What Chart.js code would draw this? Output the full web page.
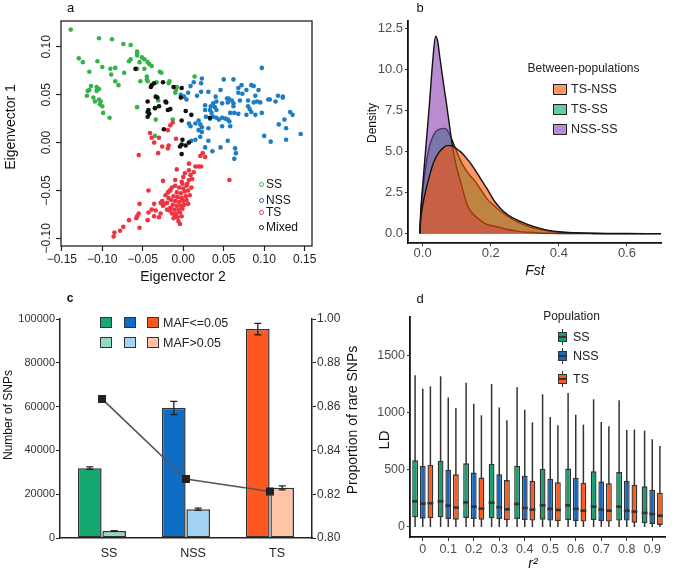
<!DOCTYPE html>
<html><head><meta charset="utf-8">
<script src="https://cdn.jsdelivr.net/npm/chart.js@4.4.0/dist/chart.umd.min.js"></script>
<style>
body{margin:0;background:#fff;font-family:"Liberation Sans",Arial,sans-serif;}
#wrap{position:relative;width:675px;height:571px;overflow:hidden;background:#fff;}
canvas{position:absolute;left:0;top:0;}
.t{position:absolute;white-space:nowrap;transform:translate(-50%,-50%);color:#111;line-height:1;}
.r{transform:translate(-50%,-50%) rotate(-90deg);}
.l{position:absolute;white-space:nowrap;transform:translateY(-50%);color:#111;line-height:1;}
.bx{position:absolute;box-sizing:border-box;}
</style></head>
<body><div id="wrap"></div>
<script>
// ---------- Panel a: PCA eigenvectors ----------
const ssPts = [[-0.139,0.118],[-0.104,0.109],[-0.088,0.108],[-0.074,0.103],[-0.065,0.102],[-0.129,0.088],[-0.124,0.084],[-0.106,0.085],[-0.100,0.079],[-0.116,0.074],[-0.090,0.077],[-0.084,0.078],[-0.089,0.071],[-0.073,0.073],[-0.057,0.095],[-0.057,0.093],[-0.057,0.091],[-0.051,0.089],[-0.048,0.087],[-0.044,0.084],[-0.067,0.085],[-0.065,0.087],[-0.054,0.084],[-0.042,0.082],[-0.048,0.077],[-0.057,0.077],[-0.039,0.080],[-0.029,0.074],[-0.027,0.073],[-0.045,0.069],[-0.044,0.064],[-0.053,0.064],[-0.084,0.064],[-0.080,0.060],[-0.114,0.059],[-0.116,0.055],[-0.118,0.054],[-0.119,0.049],[-0.107,0.058],[-0.107,0.054],[-0.104,0.056],[-0.111,0.047],[-0.109,0.043],[-0.104,0.045],[-0.102,0.043],[-0.103,0.040],[-0.100,0.038],[-0.099,0.031],[-0.091,0.026],[-0.057,0.037],[-0.018,0.062],[-0.017,0.064],[-0.008,0.058],[-0.009,0.055],[-0.010,0.052],[0.014,0.069],[-0.035,0.036],[-0.035,0.007],[-0.013,0.024],[-0.031,0.044],[-0.033,0.063],[-0.045,0.066],[-0.034,0.024]];
const nssPts = [[0.097,0.078],[0.023,0.067],[0.013,0.063],[0.009,0.059],[0.022,0.062],[0.022,0.053],[0.006,0.052],[0.004,0.045],[0.062,0.066],[0.068,0.057],[0.068,0.052],[0.073,0.051],[0.084,0.060],[0.087,0.059],[0.093,0.055],[0.089,0.049],[0.080,0.044],[0.080,0.038],[0.082,0.035],[0.087,0.042],[0.091,0.043],[0.095,0.042],[0.105,0.045],[0.114,0.043],[0.117,0.049],[0.123,0.048],[0.123,0.047],[0.054,0.046],[0.056,0.046],[0.060,0.044],[0.055,0.042],[0.062,0.041],[0.062,0.038],[0.040,0.048],[0.041,0.043],[0.037,0.041],[0.027,0.039],[0.034,0.038],[0.039,0.037],[0.033,0.034],[0.027,0.034],[0.035,0.031],[0.041,0.034],[0.048,0.041],[0.058,0.031],[0.063,0.031],[0.068,0.030],[0.078,0.029],[0.084,0.032],[0.089,0.029],[0.097,0.031],[0.028,0.027],[0.033,0.025],[0.037,0.027],[0.041,0.026],[0.044,0.024],[0.048,0.026],[0.052,0.025],[0.055,0.024],[0.057,0.022],[0.058,0.017],[0.048,0.017],[0.019,0.023],[0.015,0.020],[0.021,0.019],[0.023,0.016],[0.031,0.015],[0.019,0.013],[0.009,0.017],[0.007,0.020],[0.132,0.032],[0.135,0.029],[0.125,0.024],[0.118,0.019],[0.127,0.015],[0.145,0.009],[0.100,0.007],[0.108,0.001],[0.127,0.003],[0.055,0.002],[0.064,-0.006],[0.065,-0.011],[0.063,-0.017],[0.046,-0.005],[0.036,-0.009],[0.027,-0.005],[0.021,0.006],[0.023,0.011],[0.015,0.003],[0.010,0.002],[0.031,0.002],[0.050,0.066],[0.072,0.060],[0.078,0.055],[0.107,0.045],[0.070,0.044],[0.046,0.055],[0.031,0.053],[0.017,0.049],[-0.003,0.050],[0.001,0.048]];
const tsPts = [[-0.041,0.010],[-0.039,0.005],[-0.030,0.005],[-0.036,0.000],[-0.026,-0.004],[-0.018,-0.003],[-0.019,-0.006],[-0.031,-0.011],[-0.055,-0.013],[-0.009,0.004],[-0.016,0.018],[-0.013,0.021],[-0.019,0.013],[0.024,-0.011],[0.021,-0.014],[0.027,-0.015],[0.057,-0.039],[0.007,-0.022],[0.015,-0.025],[0.019,-0.025],[0.022,-0.025],[0.007,-0.029],[0.013,-0.031],[0.009,-0.034],[0.011,-0.038],[0.007,-0.039],[0.005,-0.043],[0.002,-0.032],[0.000,-0.036],[-0.002,-0.041],[-0.008,-0.028],[-0.010,-0.039],[-0.025,-0.040],[-0.043,-0.050],[-0.019,-0.052],[-0.016,-0.050],[-0.026,-0.061],[-0.028,-0.063],[-0.023,-0.064],[-0.036,-0.064],[-0.039,-0.070],[-0.034,-0.071],[-0.054,-0.064],[-0.055,-0.074],[-0.043,-0.073],[-0.028,-0.074],[-0.036,-0.077],[-0.044,-0.081],[-0.030,-0.078],[-0.057,-0.077],[-0.058,-0.079],[-0.067,-0.081],[-0.054,-0.089],[-0.074,-0.088],[-0.078,-0.092],[-0.085,-0.094],[-0.086,-0.098],[-0.017,-0.071],[-0.014,-0.074],[-0.010,-0.076],[-0.010,-0.045],[-0.005,-0.047],[0.000,-0.048],[0.004,-0.045],[-0.008,-0.052],[-0.003,-0.053],[0.002,-0.051],[0.006,-0.050],[-0.012,-0.056],[-0.007,-0.057],[-0.002,-0.058],[0.003,-0.056],[-0.015,-0.060],[-0.010,-0.061],[-0.005,-0.062],[0.000,-0.061],[0.004,-0.060],[-0.018,-0.058],[-0.013,-0.065],[-0.008,-0.066],[-0.003,-0.066],[0.001,-0.065],[-0.011,-0.070],[-0.006,-0.070],[-0.001,-0.069],[-0.016,-0.068],[-0.009,-0.074],[-0.004,-0.073],[-0.007,-0.078],[-0.002,-0.077],[-0.012,-0.079],[-0.006,-0.082],[-0.020,-0.063],[-0.022,-0.055],[-0.017,-0.050],[0.008,-0.055],[0.010,-0.047],[-0.014,-0.047],[-0.001,-0.043],[-0.020,-0.070],[-0.025,-0.066],[0.006,-0.064],[-0.004,-0.085]];
const mixedPts = [[-0.059,0.077],[-0.040,0.058],[-0.039,0.060],[-0.036,0.062],[-0.025,0.063],[-0.012,0.058],[-0.044,0.043],[-0.034,0.048],[-0.032,0.047],[-0.022,0.043],[-0.021,0.042],[-0.030,0.038],[-0.035,0.036],[-0.043,0.034],[-0.042,0.030],[-0.044,0.027],[-0.044,0.032],[-0.019,0.034],[-0.016,0.035],[-0.024,0.014],[-0.002,0.057],[-0.003,0.047],[0.003,0.033],[-0.002,0.023],[0.010,0.029],[-0.002,-0.002],[-0.004,-0.004],[0.003,-0.003],[0.007,0.000],[-0.002,-0.012],[0.033,0.026],[-0.001,0.003]];
const pcaGroups = ['SS','NSS','TS','Mixed'];

// ---------- Panel b: Fst density ----------
const fstGrid = [-0.008,-0.006,0.0,0.01,0.02,0.03,0.038,0.045,0.05,0.06,0.07,0.08,0.09,0.10,0.11,0.12,0.13,0.14,0.15,0.17,0.19,0.21,0.23,0.25,0.28,0.31,0.34,0.37,0.40,0.45,0.50,0.55,0.60,0.70];
const densTsNss = [0,0.8,1.7,2.7,3.5,4.2,4.6,4.85,5.0,5.2,5.35,5.35,5.3,5.15,5.0,4.8,4.55,4.3,4.0,3.35,2.7,2.0,1.5,1.15,0.8,0.55,0.35,0.2,0.11,0.05,0.02,0.01,0.005,0];
const densTsSs  = [0,1.0,2.5,4.2,5.3,5.9,6.2,6.3,6.35,6.4,6.35,6.0,5.5,5.0,4.5,4.1,3.8,3.5,3.3,2.7,2.1,1.7,1.35,1.05,0.7,0.45,0.27,0.15,0.08,0.03,0.01,0,0,0];
const densNssSs = [0,1.2,2.9,5.4,7.9,10.6,12.0,11.6,10.8,9.3,7.9,6.4,5.0,4.0,3.25,2.5,1.8,1.4,1.15,0.8,0.55,0.45,0.35,0.25,0.14,0.08,0.04,0.02,0.01,0,0,0,0,0];
const pairLabels = ['TS-NSS','TS-SS','NSS-SS'];

// ---------- Panel c: SNP counts ----------
const snpCats = ['SS','NSS','TS'];
const rareCount = [31900, 59400, 95400];
const rareErr = [600, 3000, 2600];
const commonCount = [3200, 13100, 22900];
const commonErr = [200, 500, 900];
const rareProp = [0.8635, 0.8269, 0.8212];

// ---------- Panel d: LD boxplots ----------
const ldCats = ['0','0.1','0.2','0.3','0.4','0.5','0.6','0.7','0.8','0.9'];
const ldTicks = [0, 500, 1000, 1500];
const ssLo  = [0,0,0,0,0,0,0,0,0,0];
const ssQ1  = [85,85,79,76,70,64,61,61,56,32];
const ssMed = [225,225,216,213,202,190,190,178,178,123];
const ssQ3  = [585,582,558,553,538,509,512,488,482,357];
const ssHi  = [1330,1322,1266,1254,1225,1164,1175,1120,1111,845];
const nssLo  = [0,0,0,0,0,0,0,0,0,0];
const nssQ1  = [73,70,70,67,61,56,53,53,56,26];
const nssMed = [205,187,178,173,167,158,158,152,143,114];
const nssQ3  = [535,503,477,462,450,424,430,398,406,325];
const nssHi  = [1213,1135,1082,1047,1029,965,985,921,851,769];
const tsLo  = [0,0,0,0,0,0,0,0,0,0];
const tsQ1  = [76,64,64,58,56,50,47,47,38,18];
const tsMed = [208,170,161,155,152,149,143,143,135,99];
const tsQ3  = [544,462,433,412,404,392,389,383,371,301];
const tsHi  = [1234,1044,980,936,918,892,898,883,854,711];
const popLabels = ['SS','NSS','TS'];

// ================= rendering =================
const FONT = "'Liberation Sans', Arial, sans-serif";
Chart.defaults.font.family = FONT;
Chart.defaults.animation = false;
Chart.defaults.responsive = false;
Chart.defaults.plugins.legend.display = false;
Chart.defaults.plugins.tooltip.enabled = false;
const wrap = document.getElementById('wrap');
function mk(){ const c=document.createElement('canvas'); c.width=675; c.height=571; wrap.appendChild(c); return c; }
function div(css, text, cls){ const d=document.createElement('div'); if(cls) d.className=cls; d.style.cssText=css; if(text!=null) d.textContent=text; wrap.appendChild(d); return d; }
const toXY = arr => arr.map(p=>({x:p[0],y:p[1]}));

// ---- a
const PCOL = {SS:'#35b34a', NSS:'#1b7dc4', TS:'#ef3340', Mixed:'#111111'};
const fmtR = v => (Math.abs(v)<1e-9 ? '0.00' : v.toFixed(2)).replace('-', '\u2212');
const frameA = {id:'frameA', afterDraw(ch){ const a=ch.chartArea, c=ch.ctx; c.save(); c.strokeStyle='#222'; c.lineWidth=1.3; c.strokeRect(a.left,a.top,a.right-a.left,a.bottom-a.top); c.restore(); }};
const rotY = {id:'rotY', afterDraw(ch){ const s=ch.scales.y, c=ch.ctx; c.save(); c.font='12px '+FONT; c.fillStyle='#222'; c.textAlign='center'; c.textBaseline='middle';
  s.ticks.forEach(t=>{ const py=s.getPixelForValue(t.value); c.save(); c.translate(ch.chartArea.left-14, py); c.rotate(-Math.PI/2); c.fillText(fmtR(t.value),0,0); c.restore(); }); c.restore(); }};
const ptDs = (pts,col)=>({data:toXY(pts), backgroundColor:col, borderWidth:0, pointRadius:2.3});
new Chart(mk(), {type:'scatter',
  data:{datasets:[ptDs(mixedPts,PCOL.Mixed), ptDs(tsPts,PCOL.TS), ptDs(nssPts,PCOL.NSS), ptDs(ssPts,PCOL.SS)]},
  options:{devicePixelRatio:1, layout:{padding:{left:41,top:21,right:363,bottom:295}},
    scales:{
      x:{type:'linear',min:-0.151,max:0.159,
        ticks:{stepSize:0.05,includeBounds:false,color:'#222',font:{size:12},padding:1,maxRotation:0,callback:v=>fmtR(v)},
        grid:{drawOnChartArea:false,drawTicks:true,tickLength:5,tickColor:'#222',tickWidth:1.2},border:{display:false},
        afterFit:s=>{s.height=30;}},
      y:{type:'linear',min:-0.108,max:0.127,
        ticks:{stepSize:0.05,includeBounds:false,display:false},
        grid:{drawOnChartArea:false,drawTicks:true,tickLength:5,tickColor:'#222',tickWidth:1.2},border:{display:false},
        afterFit:s=>{s.width=20;}}
    }},
  plugins:[frameA, rotY]});

// ---- b
const BCOL = {'TS-NSS':'rgba(250,83,3,0.6)', 'TS-SS':'rgba(0,168,97,0.6)', 'NSS-SS':'rgba(138,63,177,0.6)'};
const densDs = (lab,vals)=>({label:lab, data:fstGrid.map((x,i)=>({x,y:vals[i]})), fill:'origin', backgroundColor:BCOL[lab], borderColor:'#111', borderWidth:1.4, pointRadius:0, cubicInterpolationMode:'monotone'});
new Chart(mk(), {type:'line',
  data:{datasets:[densDs('TS-NSS',densTsNss), densDs('NSS-SS',densNssSs), densDs('TS-SS',densTsSs)]},
  options:{devicePixelRatio:1, layout:{padding:{left:378,top:21,right:14,bottom:298}},
    scales:{
      x:{type:'linear',min:-0.043,max:0.70,
        ticks:{stepSize:0.2,includeBounds:false,color:'#4d4d4d',font:{size:13},padding:0,maxRotation:0,callback:v=>v.toFixed(1)},
        grid:{drawOnChartArea:false,tickLength:3,tickColor:'#333'},border:{display:true,color:'#111',width:1.8},
        afterFit:s=>{s.height=30;}},
      y:{type:'linear',min:-0.57,max:12.93,
        ticks:{stepSize:2.5,includeBounds:false,color:'#4d4d4d',font:{size:13},padding:2,callback:v=>v.toFixed(1)},
        grid:{drawOnChartArea:false,tickLength:3,tickColor:'#333'},border:{display:true,color:'#111',width:1.8},
        afterFit:s=>{s.width=30;}}
    }}});

// ---- c
const CDARK = ['#14a870','#0d6cc4','#ff5722'];
const CLIGHT = ['#8edbbf','#a3d2f3','#ffc3a6'];
const errPlugin = {id:'err', afterDatasetsDraw(ch){ const c=ch.ctx, y=ch.scales.y;
  [[0,rareCount,rareErr],[1,commonCount,commonErr]].forEach(([di,vals,errs])=>{
    ch.getDatasetMeta(di).data.forEach((bar,i)=>{ const x=bar.x, t=y.getPixelForValue(vals[i]+errs[i]), b=y.getPixelForValue(vals[i]-errs[i]);
      c.save(); c.strokeStyle='#222'; c.lineWidth=1.3; c.beginPath(); c.moveTo(x,t); c.lineTo(x,b); c.moveTo(x-3.5,t); c.lineTo(x+3.5,t); c.moveTo(x-3.5,b); c.lineTo(x+3.5,b); c.stroke(); c.restore(); });
  }); }};
new Chart(mk(), {type:'bar',
  data:{labels:snpCats, datasets:[
    {label:'MAF<=0.05', data:rareCount, backgroundColor:CDARK, borderColor:'#333', borderWidth:1.5, borderSkipped:false, categoryPercentage:0.58, barPercentage:0.97, order:1},
    {label:'MAF>0.05', data:commonCount, backgroundColor:CLIGHT, borderColor:'#333', borderWidth:1.5, borderSkipped:false, categoryPercentage:0.58, barPercentage:0.97, order:1},
    {type:'line', label:'Proportion of rare SNPs', data:rareProp, yAxisID:'y2', borderColor:'#555', borderWidth:1.6, pointStyle:'rect', pointRadius:4.5, pointBackgroundColor:'#222', pointBorderColor:'#222', order:0}
  ]},
  options:{devicePixelRatio:1, layout:{padding:{left:15,top:319,right:323,bottom:1}},
    scales:{
      x:{grid:{display:false,drawTicks:false}, border:{display:true,color:'#222',width:1.5},
        ticks:{color:'#222',font:{size:12.5},padding:8,labelOffset:7}, afterFit:s=>{s.height=32;}},
      y:{min:0,max:100000, ticks:{stepSize:20000,color:'#333',font:{size:11},padding:1,callback:v=>String(v)},
        grid:{drawOnChartArea:false,tickLength:4,tickColor:'#222'}, border:{display:true,color:'#222',width:1.5}, afterFit:s=>{s.width=45;}},
      y2:{position:'right',min:0.8,max:0.9, ticks:{stepSize:0.02,color:'#333',font:{size:12},padding:1,callback:v=>(v>0.895?'1.00':v.toFixed(2))},
        grid:{drawOnChartArea:false,tickLength:4,tickColor:'#222'}, border:{display:true,color:'#222',width:1.5}, afterFit:s=>{s.width=40;}}
    }},
  plugins:[errPlugin]});

// ---- d
const DCOL = {SS:'#17a06b', NSS:'#1767c0', TS:'#ff5a1e'};
const boxStats = [
  {lo:ssLo,q1:ssQ1,med:ssMed,q3:ssQ3,hi:ssHi},
  {lo:nssLo,q1:nssQ1,med:nssMed,q3:nssQ3,hi:nssHi},
  {lo:tsLo,q1:tsQ1,med:tsMed,q3:tsQ3,hi:tsHi}];
const boxPlugin = {id:'boxw',
  beforeDatasetsDraw(ch){ const c=ch.ctx, y=ch.scales.y; c.save(); c.strokeStyle='#333'; c.lineWidth=1.5;
    boxStats.forEach((st,di)=>ch.getDatasetMeta(di).data.forEach((bar,i)=>{ c.beginPath(); c.moveTo(bar.x,y.getPixelForValue(st.lo[i])); c.lineTo(bar.x,y.getPixelForValue(st.hi[i])); c.stroke(); }));
    c.restore(); },
  afterDatasetsDraw(ch){ const c=ch.ctx, y=ch.scales.y; c.save(); c.strokeStyle='#333'; c.lineWidth=2.6;
    boxStats.forEach((st,di)=>ch.getDatasetMeta(di).data.forEach((bar,i)=>{ const py=y.getPixelForValue(st.med[i]); c.beginPath(); c.moveTo(bar.x-bar.width/2,py); c.lineTo(bar.x+bar.width/2,py); c.stroke(); }));
    c.restore(); }};
const boxDs = (lab,st)=>({label:lab, data:st.q1.map((q,i)=>[q,st.q3[i]]), backgroundColor:DCOL[lab], borderColor:'#333', borderWidth:1.4, borderSkipped:false, categoryPercentage:0.9, barPercentage:0.76});
new Chart(mk(), {type:'bar',
  data:{labels:ldCats, datasets:[boxDs('SS',boxStats[0]), boxDs('NSS',boxStats[1]), boxDs('TS',boxStats[2])]},
  options:{devicePixelRatio:1, layout:{padding:{left:370,top:317,right:10,bottom:9}},
    scales:{
      x:{grid:{drawOnChartArea:false,offset:false,tickLength:4,tickColor:'#333'}, border:{display:true,color:'#111',width:1.8},
        ticks:{color:'#4d4d4d',font:{size:12.5},padding:1,maxRotation:0}, afterFit:s=>{s.height=25;}},
      y:{type:'linear',min:-88,max:1842, ticks:{color:'#4d4d4d',font:{size:12.5},padding:2,callback:v=>String(v)},
        afterBuildTicks:s=>{ s.ticks = ldTicks.map(v=>({value:v})); },
        grid:{drawOnChartArea:false,tickLength:3,tickColor:'#333'}, border:{display:true,color:'#111',width:1.8}, afterFit:s=>{s.width=40;}}
    }},
  plugins:[boxPlugin]});

// ---- texts
const T = (s,x,y,size,extra,cls)=>div(`left:${x}px;top:${y}px;font-size:${size}px;${extra||''}`, s, cls||'t');
T('a',70.5,7,13); T('b',420,7,13); T('c',70,298,12,'font-weight:bold'); T('d',420,298,13);
T('Eigenvector 2',183,276,14); T('Eigenvector 1',10,127,14,'', 't r');
T('Density',372,123,12,'','t r'); T('Fst',535,270,14,'font-style:italic');
T('Number of SNPs',8,415,12,'','t r'); T('Proportion of rare SNPs',352,420,14,'','t r');
T('LD',383,440,15,'','t r'); T('r\u00b2',533,563,14,'font-style:italic');

// legend a
[[pcaGroups[0],184],[pcaGroups[1],200],[pcaGroups[2],212],[pcaGroups[3],227]].forEach(([g,y])=>{
  const col = g==='NSS' ? '#2a55b0' : PCOL[g];
  div(`left:258.5px;top:${y-2.5}px;width:5px;height:5px;border:1.2px solid ${col};border-radius:50%;`, null, 'bx');
  div(`left:266px;top:${y}px;font-size:12px;`, g, 'l');
});
// legend b
T('Between-populations',583.5,68,12,'color:#222');
[[pairLabels[0],89],[pairLabels[1],109],[pairLabels[2],129]].forEach(([p,y])=>{
  div(`left:553px;top:${y-5.5}px;width:14px;height:11px;background:${BCOL[p]};border:1.2px solid #222;`, null, 'bx');
  div(`left:571px;top:${y}px;font-size:12.5px;color:#222`, p, 'l');
});
// legend c
[[CDARK,317],[CLIGHT,337]].forEach(([cols,top])=>{
  [100,124,147].forEach((x,i)=>div(`left:${x}px;top:${top}px;width:12px;height:11px;background:${cols[i]};border:1.2px solid #333;`, null, 'bx'));
});
div('left:163px;top:322.5px;font-size:12.5px;color:#222','MAF<=0.05','l');
div('left:163px;top:342.5px;font-size:12.5px;color:#222','MAF>0.05','l');
// legend d
T('Population',571.5,316,12,'color:#222');
[[popLabels[0],337],[popLabels[1],356],[popLabels[2],379]].forEach(([p,y])=>{
  div(`left:562px;top:${y-8}px;width:1.2px;height:16px;background:#333;`, null, 'bx');
  div(`left:558px;top:${y-5}px;width:9px;height:10px;background:${DCOL[p]};border:1.2px solid #333;`, null, 'bx');
  div(`left:558px;top:${y-1}px;width:9px;height:2px;background:#333;`, null, 'bx');
  div(`left:573px;top:${y}px;font-size:12.5px;color:#222`, p, 'l');
});
</script>
</body></html>
